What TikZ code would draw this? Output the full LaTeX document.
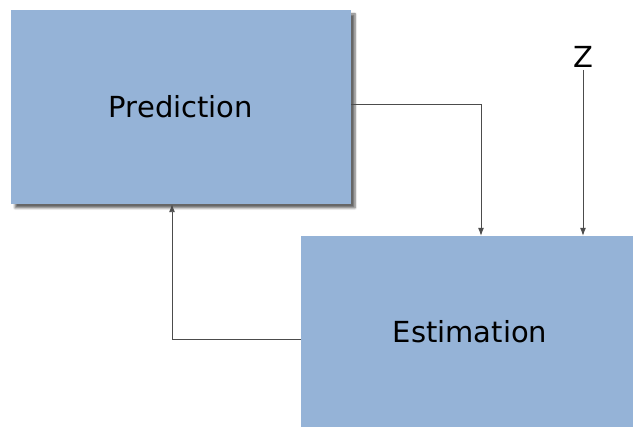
\documentclass[tikz,border=0pt]{standalone}
\usepackage{fontspec}
\setmainfont{DejaVu Sans}
\usetikzlibrary{arrows.meta,shadows.blur}
\definecolor{boxblue}{HTML}{95B3D7}
\begin{document}
\begin{tikzpicture}[x=1pt,y=-1pt,
  blockbox/.style={fill=boxblue,draw=none,inner sep=0pt,font=\fontsize{29}{33}\selectfont},
  conn/.style={draw=black!70,line width=0.9pt,-{Latex[length=8pt,width=6pt]}}]
\useasboundingbox (0,0) rectangle (633,427);
\node[blockbox,minimum width=340,minimum height=194,
  blur shadow={shadow xshift=4pt,shadow yshift=-4pt,shadow blur steps=6,shadow opacity=60}]
  (pred) at (181,107) {Prediction};
\node[blockbox,minimum width=332,minimum height=191,text depth=0pt] (est) at (467,331.5) {\hspace*{6pt}Estimation};
\node[font=\fontsize{29}{33}\selectfont,inner sep=2pt] (z) at (583,57) {Z};
\draw[conn] (pred.east |- 0,104) -| (est.north -| 481,0);
\draw[conn] (z.south) -- (est.north -| z.south);
\draw[conn] (est.west |- 0,339) -| (pred.south -| 172,0);
\end{tikzpicture}
\end{document}
